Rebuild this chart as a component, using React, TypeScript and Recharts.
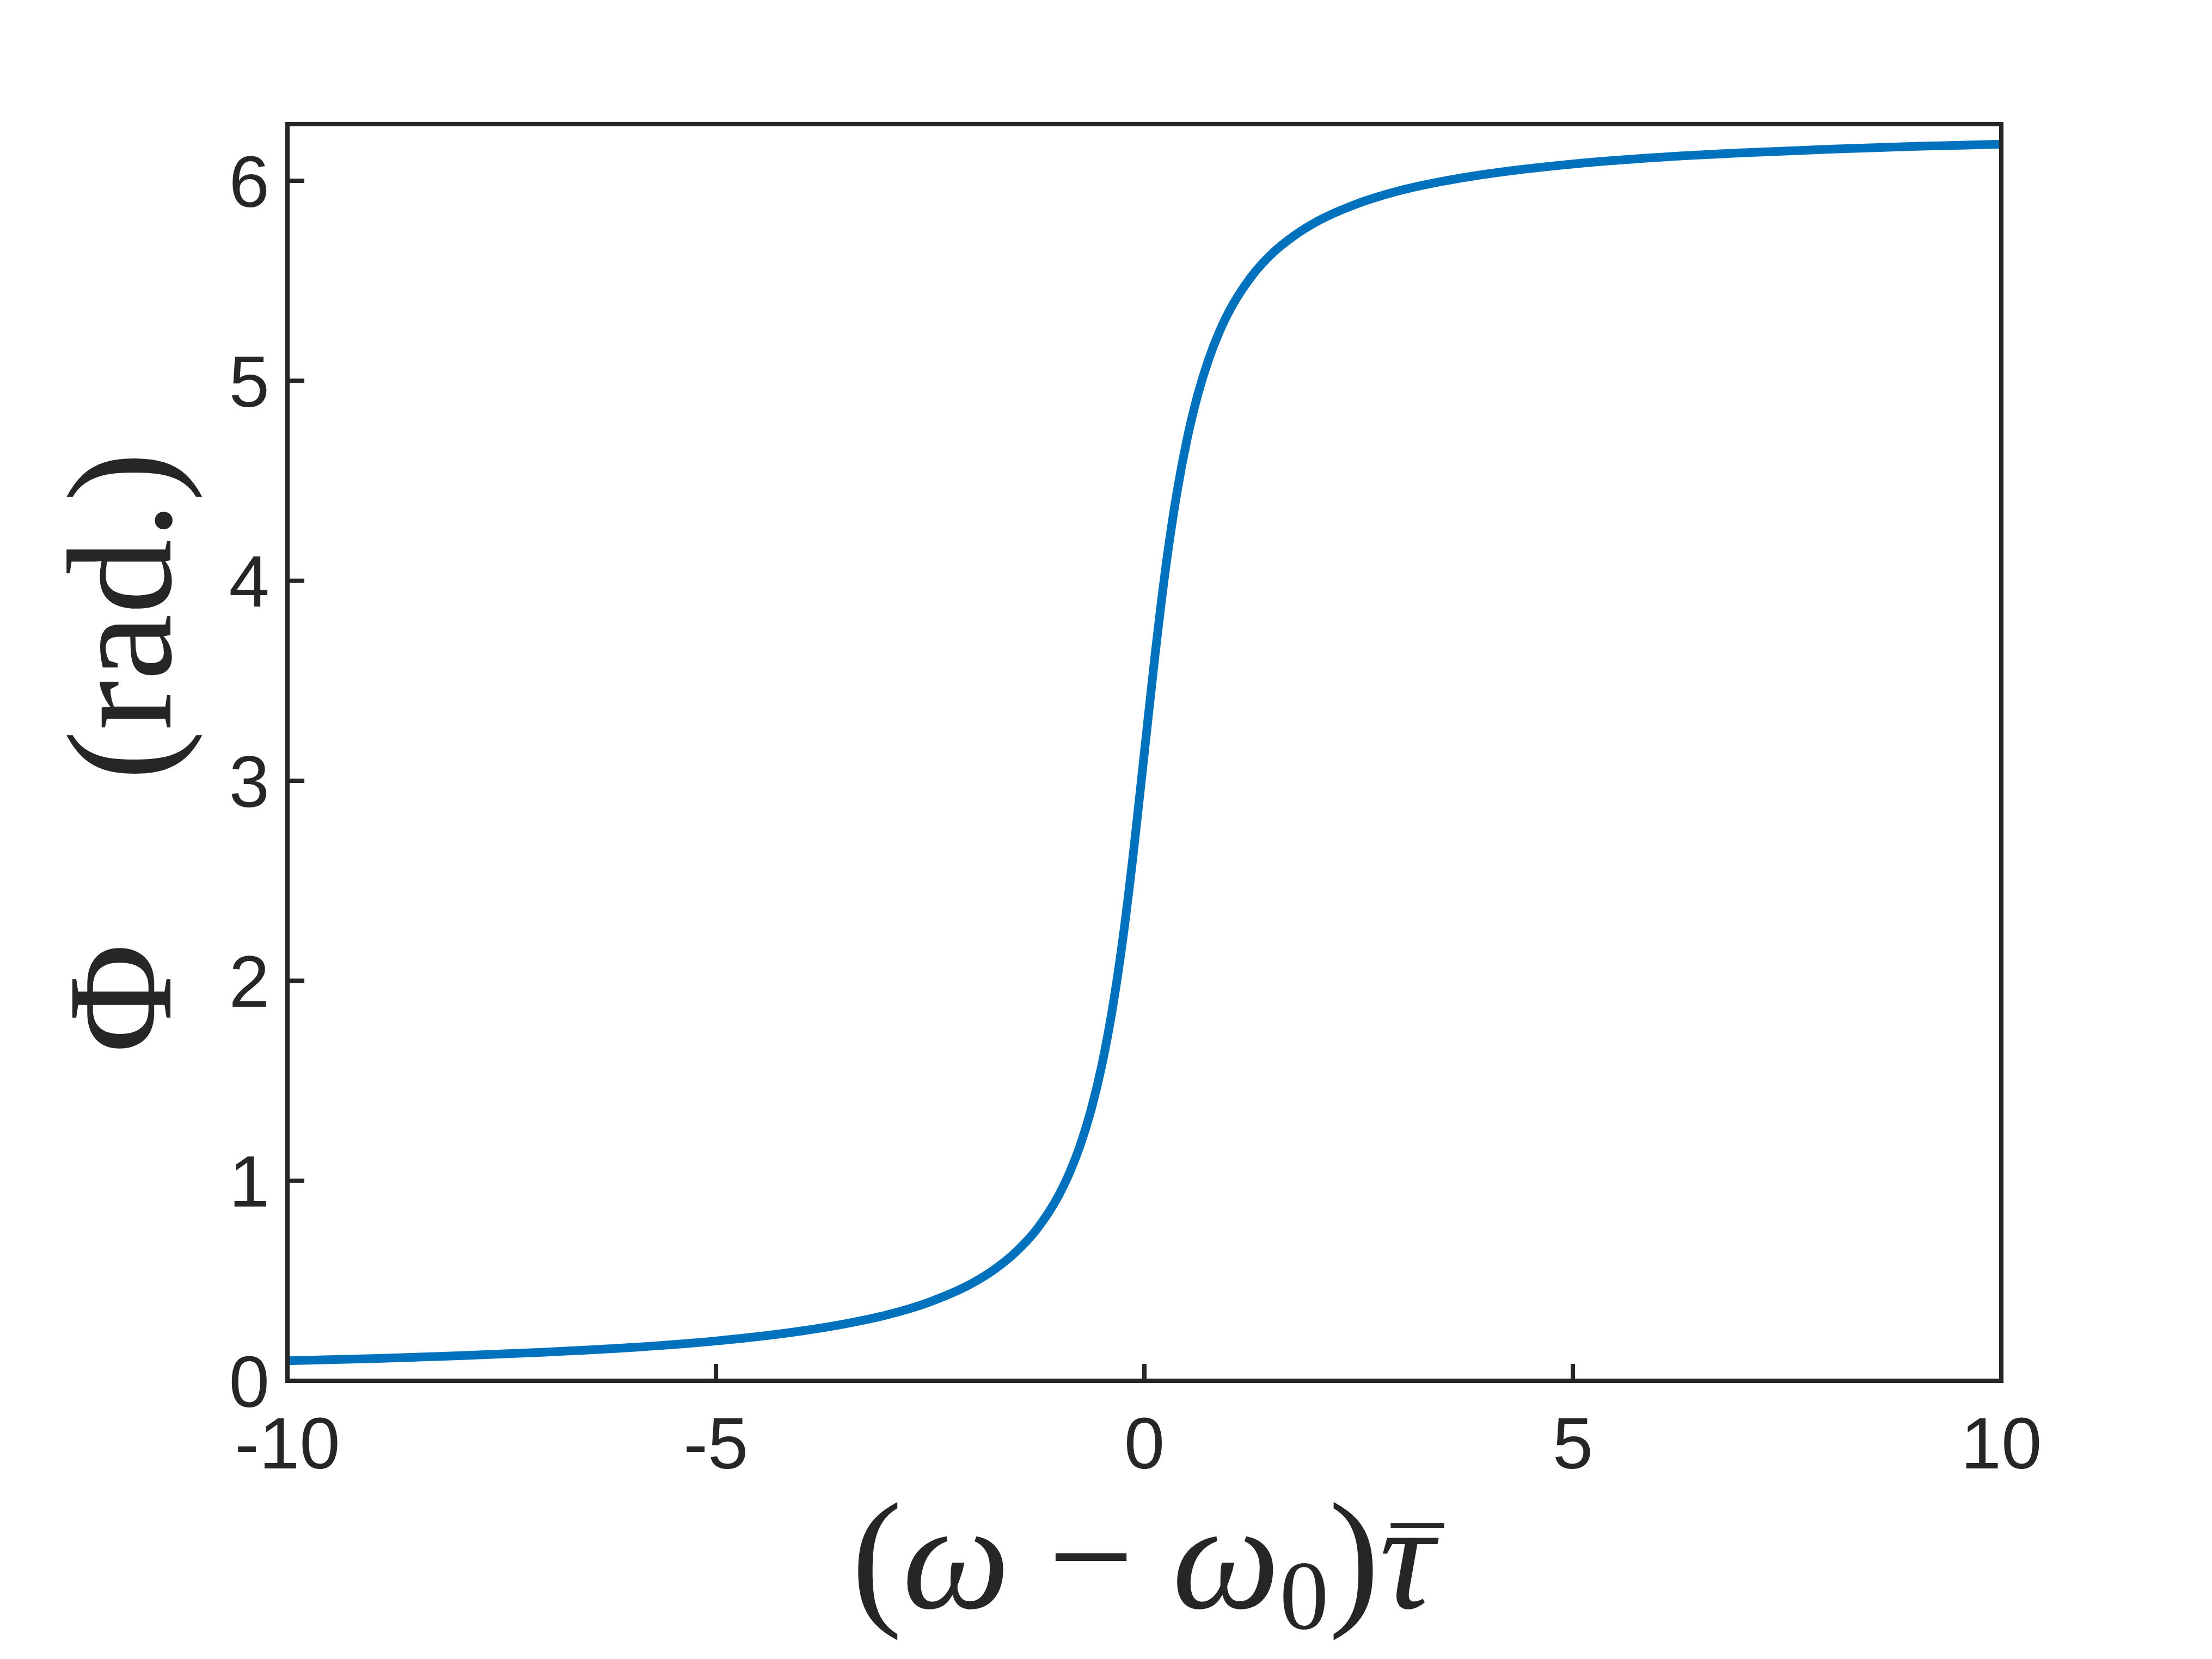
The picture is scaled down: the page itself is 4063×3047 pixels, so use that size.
import { Line, LineChart, XAxis, YAxis } from "recharts";

// detuning (omega - omega0) * tau_bar
const detuning = [
  -10, -9, -8, -7, -6, -5, -4, -3.5, -3, -2.5, -2, -1.75, -1.5, -1.25, -1, -0.875, -0.75, -0.625, -0.5,
  -0.375, -0.25, -0.125, 0, 0.125, 0.25, 0.375, 0.5, 0.625, 0.75, 0.875, 1, 1.25, 1.5, 1.75, 2, 2.5, 3,
  3.5, 4, 5, 6, 7, 8, 9, 10,
];
// phase, rad
const phase = [
  0.1, 0.111, 0.125, 0.143, 0.166, 0.199, 0.249, 0.284, 0.33, 0.395, 0.49, 0.557, 0.644, 0.761, 0.927,
  1.038, 1.176, 1.35, 1.571, 1.855, 2.214, 2.652, 3.142, 3.631, 4.069, 4.429, 4.712, 4.933, 5.107, 5.245,
  5.356, 5.522, 5.64, 5.726, 5.793, 5.888, 5.953, 5.999, 6.034, 6.084, 6.117, 6.14, 6.158, 6.172, 6.183,
];

const xTicks = [-10, -5, 0, 5, 10];
const yTicks = [0, 1, 2, 3, 4, 5, 6];
const yMax = 6.2832;

const data = detuning.map((x, i) => ({ x, phi: phase[i] }));

const ink = "#262626";
const axisLine = { stroke: ink, strokeWidth: 8, strokeLinecap: "square" as const };
const tickLine = { stroke: ink, strokeWidth: 8 };
const tickFont = { fill: ink, fontSize: 134, fontFamily: "'Liberation Sans', Arial, sans-serif" };
const serif = "'Liberation Serif', 'Times New Roman', serif";

function YTitle(props: any) {
  const vb = props.viewBox || { x: 0, y: 228, width: 528, height: 2308 };
  const cx = 313;
  const cy = vb.y + vb.height / 2;
  return (
    <text
      x={cx}
      y={cy}
      transform={`rotate(-90, ${cx}, ${cy})`}
      textAnchor="middle"
      fontFamily={serif}
      fontSize={275}
      fill={ink}
    >
      Φ<tspan dx={300}>(rad.)</tspan>
    </text>
  );
}

function XTitle(props: any) {
  const vb = props.viewBox || { x: 528, y: 2536, width: 3148, height: 511 };
  const x0 = vb.x + 1036;
  const cy = vb.y + 417;
  return (
    <text x={x0} y={cy} textAnchor="start" fontFamily={serif} fontSize={280} fill={ink}>
      (<tspan fontStyle="italic">ω</tspan> − <tspan fontStyle="italic">ω</tspan>
      <tspan fontSize={180} dy={38}>0</tspan>
      <tspan dy={-38}>)</tspan>
      <tspan fontStyle="italic">τ</tspan>
      <tspan fontSize={190} dx={-78} dy={-12}>¯</tspan>
    </text>
  );
}

export default function App() {
  return (
    <div style={{ position: "absolute", left: 0, top: 0, width: 4063, height: 3047, background: "#fff" }}>
      <LineChart width={4063} height={3047} data={data} margin={{ top: 128, right: 287, bottom: 0, left: 0 }}>
        <XAxis
          xAxisId="bottom"
          type="number"
          dataKey="x"
          domain={[-10, 10]}
          ticks={xTicks}
          height={511}
          axisLine={axisLine}
          tickLine={tickLine}
          tickSize={-31}
          tickMargin={97}
          tick={tickFont}
          interval={0}
          label={{ content: XTitle }}
        />
        <XAxis
          xAxisId="top"
          orientation="top"
          type="number"
          dataKey="x"
          domain={[-10, 10]}
          ticks={xTicks}
          height={100}
          axisLine={axisLine}
          tickLine={tickLine}
          tickSize={-31}
          tick={false}
          interval={0}
        />
        <YAxis
          yAxisId="left"
          type="number"
          domain={[0, yMax]}
          ticks={yTicks}
          width={528}
          axisLine={axisLine}
          tickLine={tickLine}
          tickSize={-31}
          tickMargin={64}
          tick={tickFont}
          interval={0}
          label={{ content: YTitle }}
        />
        <YAxis
          yAxisId="right"
          orientation="right"
          type="number"
          domain={[0, yMax]}
          ticks={yTicks}
          width={100}
          axisLine={axisLine}
          tickLine={tickLine}
          tickSize={-31}
          tick={false}
          interval={0}
        />
        <Line
          xAxisId="bottom"
          yAxisId="left"
          type="monotone"
          dataKey="phi"
          stroke="#0072BD"
          strokeWidth={16}
          dot={false}
          activeDot={false}
          isAnimationActive={false}
        />
      </LineChart>
    </div>
  );
}
